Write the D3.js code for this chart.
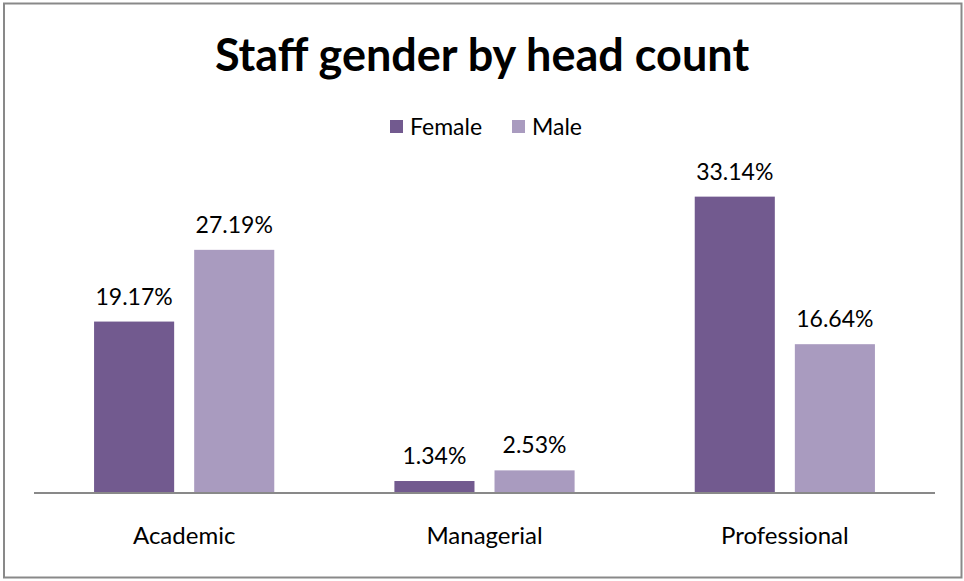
<!DOCTYPE html>
<html>
<head>
<meta charset="utf-8">
<script src="https://cdn.jsdelivr.net/npm/d3@7"></script>
<style>
  html, body { margin: 0; padding: 0; background: #fff; }
  svg { display: block; font-family: Lato, "Open Sans", sans-serif; }
</style>
</head>
<body>
<svg id="chart" width="964" height="581"></svg>
<script>
// Staff composition by role and gender (percent of total head count)
const categories = ["Academic", "Managerial", "Professional"];
const seriesNames = ["Female", "Male"];
const femaleValues = [19.17, 1.34, 33.14];
const maleValues = [27.19, 2.53, 16.64];
const seriesColors = ["#725a8f", "#a99bbf"];

const values = [femaleValues, maleValues];
const rows = categories.map((c, i) => ({
  category: c,
  bars: seriesNames.map((s, j) => ({ series: s, value: values[j][i], color: seriesColors[j] }))
}));

const svg = d3.select("#chart");
const plot = { left: 34, right: 935, top: 180, bottom: 493 };

// Outer frame
svg.append("rect")
  .attr("x", 4).attr("y", 3.5)
  .attr("width", 957.5).attr("height", 574)
  .attr("fill", "#fff")
  .attr("stroke", "#898989").attr("stroke-width", 2);

// Title
svg.append("text")
  .attr("x", 482).attr("y", 71)
  .attr("text-anchor", "middle")
  .attr("font-size", 45).attr("font-weight", 700)
  .attr("fill", "#000")
  .text("Staff gender by head count");

// Scales
const x0 = d3.scaleBand().domain(categories).range([plot.left, plot.right]).paddingInner(0).paddingOuter(0);
const x1 = d3.scaleBand().domain(seriesNames).range([0, x0.bandwidth()]).paddingInner(0.2).paddingOuter(0.6);
const y = d3.scaleLinear().domain([0, 35]).range([plot.bottom, plot.top]);

// Legend
const legend = svg.append("g").attr("transform", "translate(390,127)");
const legendX = [0, 122];
seriesNames.forEach((s, i) => {
  const g = legend.append("g").attr("transform", `translate(${legendX[i]},0)`);
  g.append("rect").attr("x", 0).attr("y", -7).attr("width", 13).attr("height", 13).attr("fill", seriesColors[i]);
  g.append("text").attr("x", 20).attr("y", 8).attr("font-size", 23).attr("fill", "#000").text(s);
});

// Bars
const groups = svg.append("g").selectAll("g.cat")
  .data(rows).join("g")
  .attr("class", "cat")
  .attr("transform", d => `translate(${x0(d.category)},0)`);

groups.selectAll("rect")
  .data(d => d.bars).join("rect")
  .attr("x", d => x1(d.series))
  .attr("width", x1.bandwidth())
  .attr("y", d => y(d.value))
  .attr("height", d => y(0) - y(d.value))
  .attr("fill", d => d.color);

// Value labels
groups.selectAll("text.val")
  .data(d => d.bars).join("text")
  .attr("class", "val")
  .attr("x", d => x1(d.series) + x1.bandwidth() / 2)
  .attr("y", d => y(d.value) - 17)
  .attr("text-anchor", "middle")
  .attr("font-size", 23)
  .attr("fill", "#000")
  .text(d => d.value.toFixed(2) + "%");

// Category axis
const xAxis = svg.append("g")
  .attr("transform", `translate(0,${plot.bottom})`)
  .call(d3.axisBottom(x0).tickSize(0).tickPadding(34));
xAxis.select(".domain").attr("stroke", "#898989").attr("stroke-width", 2)
  .attr("d", `M${plot.left},0H${plot.right}`);
xAxis.selectAll("text")
  .attr("font-size", 24)
  .attr("font-family", "Lato, 'Open Sans', sans-serif")
  .attr("fill", "#000");
</script>
</body>
</html>
